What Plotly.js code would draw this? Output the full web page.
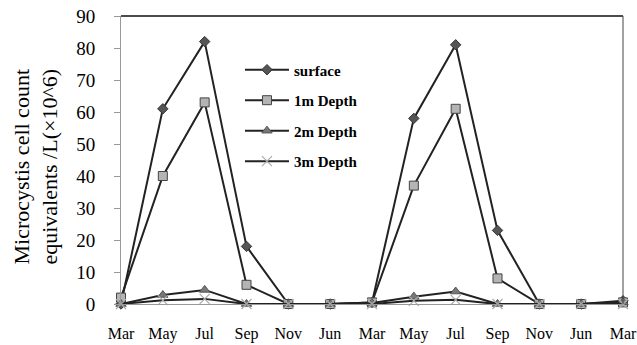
<!DOCTYPE html>
<html>
<head>
<meta charset="utf-8">
<script src="https://cdn.plot.ly/plotly-3.0.1.min.js"></script>
<style>html,body{margin:0;padding:0;background:#fff;}#chart{width:637px;height:345px;}</style>
</head>
<body>
<div id="chart"></div>
<script>
var tickLabels = ["Mar","May","Jul","Sep","Nov","Jun","Mar","May","Jul","Sep","Nov","Jun","Mar"];
var xIdx = [0,1,2,3,4,5,6,7,8,9,10,11,12];
var surface = [0, 61, 82, 18, 0, 0, 0.5, 58, 81, 23, 0, 0, 1];
var depth1m = [2, 40, 63, 6, 0, 0, 0.5, 37, 61, 8, 0, 0, 0.5];
var depth2m = [0, 2.8, 4.4, 0, 0, 0, 0.3, 2.3, 3.9, 0, 0, 0, 0.5];
var depth3m = [0, 1.2, 1.6, 0, 0, 0, 0, 1, 1.3, 0, 0, 0, 0];
var seriesNames = ["surface","1m Depth","2m Depth","3m Depth"];

var lineStyle = {color:'#222', width:2};
var traces = [
  {x:xIdx, y:surface, name:seriesNames[0], mode:'lines+markers', line:lineStyle, legendgroup:'a',
   marker:{symbol:'diamond', size:8, color:'#555', line:{color:'#333', width:1}}, cliponaxis:false},
  {x:xIdx, y:depth1m, name:seriesNames[1], mode:'lines+markers', line:lineStyle, legendgroup:'b',
   marker:{symbol:'square', size:9, color:'#b4b4b4', line:{color:'#444', width:1}}, cliponaxis:false},
  {x:xIdx, y:depth2m, name:seriesNames[2], mode:'lines+markers', line:lineStyle, legendgroup:'c',
   marker:{symbol:'triangle-up', size:9, color:'#777', line:{color:'#555', width:1}}, cliponaxis:false},
  {x:xIdx, y:depth3m, name:seriesNames[3], mode:'lines+markers', line:lineStyle, legendgroup:'d',
   marker:{symbol:'x-thin-open', size:10, color:'#aaa', line:{color:'#aaa', width:1.2}}, cliponaxis:false}
];

var serif = 'Liberation Serif, Times New Roman, serif';
var layout = {
  width:637, height:345,
  margin:{l:121, r:14, t:16, b:41},
  paper_bgcolor:'#fff', plot_bgcolor:'#fff',
  font:{family:serif, color:'#000'},
  showlegend:true,
  legend:{x:0.237, y:0.87, xanchor:'left', yanchor:'top', bgcolor:'rgba(0,0,0,0)', itemwidth:44,
          font:{family:serif, size:15, color:'#000', weight:'bold'}, tracegroupgap:8},
  xaxis:{range:[0,12], tickmode:'array', tickvals:xIdx, ticktext:tickLabels,
         showgrid:false, zeroline:false, showline:true, linecolor:'#999', linewidth:1,
         ticks:'', tickfont:{family:serif, size:16, color:'#000'}, ticklabelstandoff:15, fixedrange:true},
  yaxis:{range:[0,90], tickmode:'array', tickvals:[0,10,20,30,40,50,60,70,80,90],
         showgrid:false, zeroline:false, showline:true, linecolor:'#999', linewidth:1,
         ticks:'outside', ticklen:6, tickcolor:'#999', tickfont:{family:serif, size:19, color:'#000'},
         ticklabelstandoff:15},
  shapes:[
    {type:'line', xref:'paper', yref:'paper', x0:0, x1:1, y0:1, y1:1, line:{color:'#111', width:1.5}},
    {type:'line', xref:'paper', yref:'paper', x0:1, x1:1, y0:0, y1:1, line:{color:'#444', width:1}}
  ],
  annotations:[
    {xref:'paper', yref:'paper', x:-0.17, y:0.476, xanchor:'center', yanchor:'middle', textangle:-90,
     showarrow:false, text:'Microcystis cell count<br>equivalents /L(×10^6)',
     font:{family:serif, size:22, color:'#000'}}
  ]
};
Plotly.newPlot('chart', traces, layout, {displayModeBar:false, staticPlot:true});
</script>
</body>
</html>
